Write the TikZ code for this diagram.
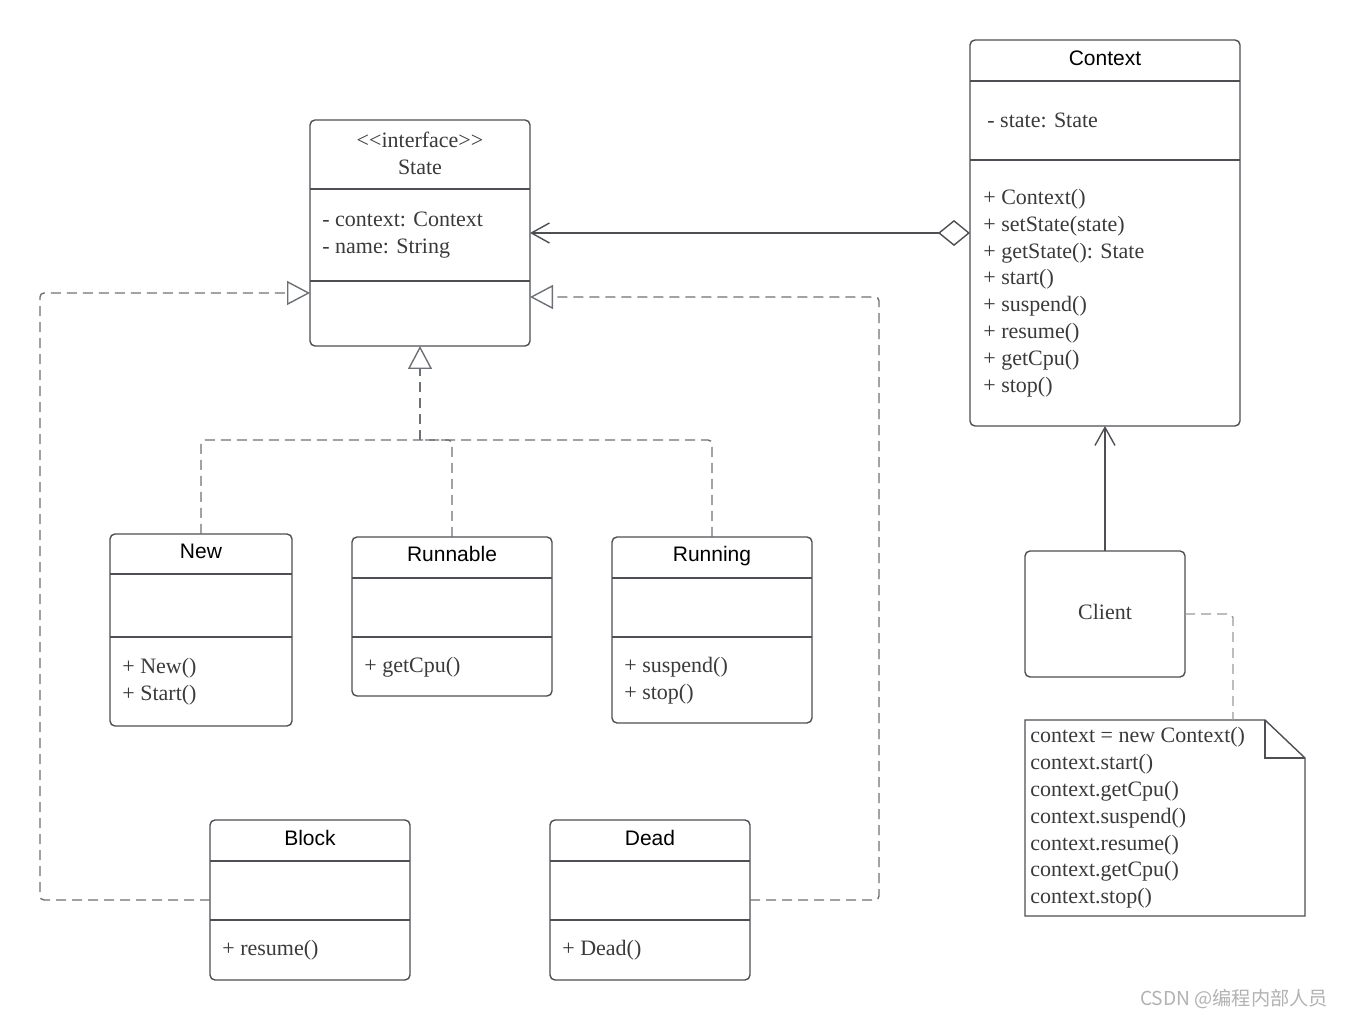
\documentclass[tikz,border=0pt]{standalone}
\usepackage{fontspec}
\setmainfont{Liberation Serif}
\setsansfont{Liberation Sans}
\newfontfamily\cjk{Noto Sans CJK SC}
\usetikzlibrary{arrows.meta}

\definecolor{boxline}{HTML}{4D4F55}
\definecolor{txtgray}{HTML}{3A3A3A}
\definecolor{dashgray}{HTML}{6E7077}

\tikzset{
  cls/.style={draw=boxline, line width=0.7pt, rounded corners=2.5pt, anchor=north west,
    inner sep=0pt, outer sep=0pt},
  head/.style={font=\sffamily\fontsize{10.5}{12}\selectfont, text=black, inner sep=0pt,
    text height=0.72em, text depth=0pt},
  body/.style={font=\fontsize{11}{13.4}\selectfont, text=txtgray, align=left, anchor=west, inner sep=0pt},
  divider/.style={draw=boxline, line width=0.6pt},
  dashline/.style={draw=dashgray, line width=0.7pt, dash pattern=on 5pt off 3pt, rounded corners=2pt},
  realize/.style={dashline, -{Triangle[open, length=11.5pt, width=12pt, line width=0.7pt]}},
}

\begin{document}
\begin{tikzpicture}[x=0.5pt, y=-0.5pt]
\useasboundingbox (0,0) rectangle (1345,1020);

% interface
\node[cls, minimum width=110pt, minimum height=113pt] (state) at (310,120) {};
\node[body, align=center, anchor=center] (state-title) at (420,153.5) {<\kern0pt<interface>\kern0pt>\\State};
\node[body] (state-attr) at (322,235) {- context: Context\\- name: String};
\draw[divider] (310,189) -- (530,189);
\draw[divider] (310,281) -- (530,281);

% context
\node[cls, minimum width=135pt, minimum height=193pt] (context) at (970,40) {};
\node[head] (context-title) at (1105,58) {Context};
\node[body] (context-attr) at (987,120) {- state: State};
\node[body] (context-ops) at (983,293) {+ Context()\\+ setState(state)\\+ getState(): State\\+ start()\\+ suspend()\\+ resume()\\+ getCpu()\\+ stop()};
\draw[divider] (970,81) -- (1240,81);
\draw[divider] (970,160) -- (1240,160);

% concrete states
\node[cls, minimum width=91pt, minimum height=96pt] (new) at (110,534) {};
\node[head] (new-title) at (201,551) {New};
\node[body] (new-ops) at (122,682) {+ New()\\+ Start()};
\draw[divider] (110,574) -- (292,574);
\draw[divider] (110,637) -- (292,637);

\node[cls, minimum width=100pt, minimum height=79.5pt] (runnable) at (352,537) {};
\node[head] (runnable-title) at (452,554) {Runnable};
\node[body] (runnable-ops) at (364,667) {+ getCpu()};
\draw[divider] (352,578) -- (552,578);
\draw[divider] (352,637) -- (552,637);

\node[cls, minimum width=100pt, minimum height=93pt] (running) at (612,537) {};
\node[head] (running-title) at (712,554) {Running};
\node[body] (running-ops) at (624,681) {+ suspend()\\+ stop()};
\draw[divider] (612,578) -- (812,578);
\draw[divider] (612,637) -- (812,637);

\node[cls, minimum width=100pt, minimum height=80pt] (block) at (210,820) {};
\node[head] (block-title) at (310,838) {Block};
\node[body] (block-ops) at (222,950) {+ resume()};
\draw[divider] (210,861) -- (410,861);
\draw[divider] (210,920) -- (410,920);

\node[cls, minimum width=100pt, minimum height=80pt] (dead) at (550,820) {};
\node[head] (dead-title) at (650,838) {Dead};
\node[body] (dead-ops) at (562,950) {+ Dead()};
\draw[divider] (550,861) -- (750,861);
\draw[divider] (550,920) -- (750,920);

% client and note
\node[cls, minimum width=80pt, minimum height=63pt] (client) at (1025,551) {};
\node[body, anchor=center] (client-name) at (1105,612) {Client};

\node[anchor=north west, inner sep=0pt, outer sep=0pt, minimum width=140pt, minimum height=98pt] (note) at (1025,720) {};
\draw[boxline, line width=0.7pt] (note.north west) -- ([xshift=-20pt]note.north east)
  -- ([yshift=-19pt]note.north east) -- (note.south east) -- (note.south west) -- cycle;
\draw[boxline, line width=0.7pt] ([xshift=-20pt]note.north east) |- ([yshift=-19pt]note.north east);
\node[body] (note-text) at (1030,818) {context = new Context()\\context.start()\\context.getCpu()\\context.suspend()\\context.resume()\\context.getCpu()\\context.stop()};

% connectors
\coordinate (join) at (420,440);
\draw[realize] (join) -- (state.south);
\draw[dashline] (new.north) |- (join);
\draw[dashline] (runnable.north) |- (join);
\draw[dashline] (running.north) |- (join);
\draw[realize] (block.west) -- ++(-170,0) |- ([yshift=26.5pt]state.south west);
\draw[realize] (dead.east) -- ++(129,0) |- ([yshift=24.5pt]state.south east);

\draw[boxline, line width=0.7pt, {Straight Barb[length=9pt, width=10pt]}-{Diamond[open, length=16pt, width=13pt]}] (state.east) -- (context.west);
\draw[boxline, line width=0.7pt, -{Straight Barb[length=9pt, width=10pt]}] (client.north) -- (context.south);
\draw[dashline, draw=gray!80] (client.east) -| ([xshift=34pt]note.north);

\node[font=\cjk\fontsize{9.6}{11}\selectfont, text=black!30, inner sep=0pt] (wmark) at (1234,999) {CSDN @编程内部人员};
\end{tikzpicture}
\end{document}
